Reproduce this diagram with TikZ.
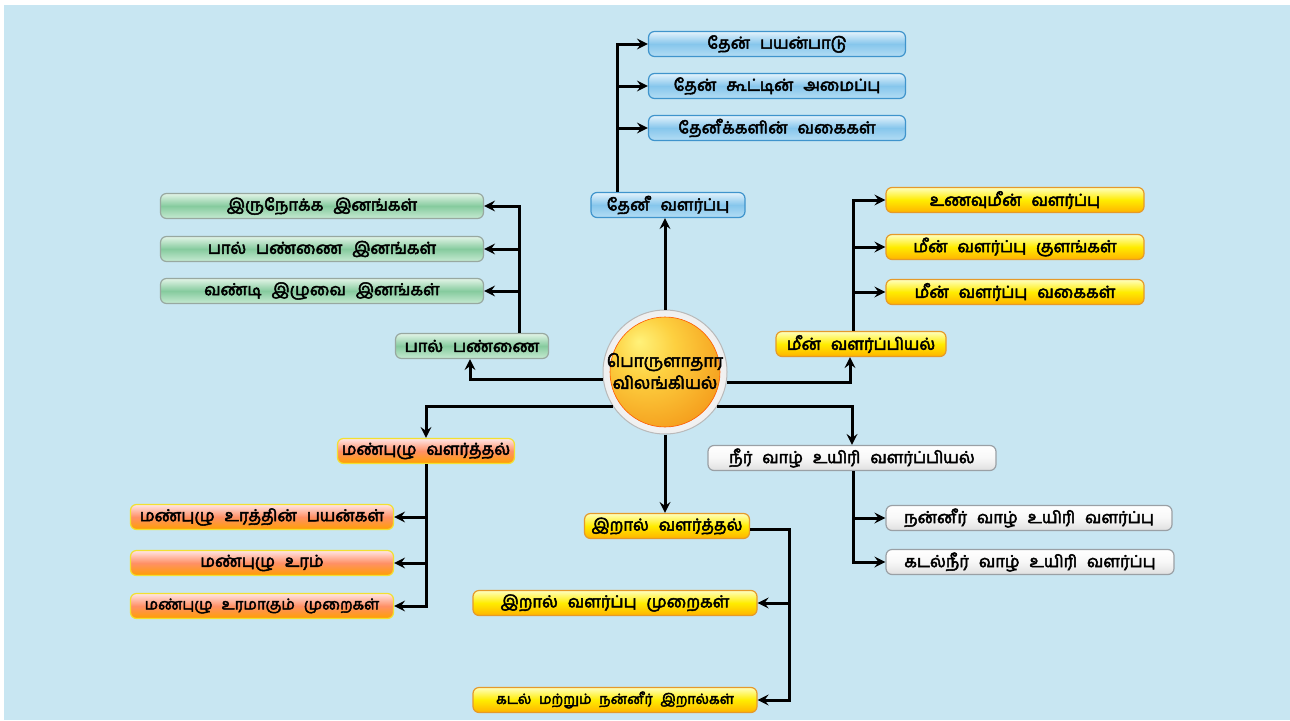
\documentclass[tikz,border=0pt]{standalone}
\usepackage{fontspec}
\newfontfamily\tam[Script=Tamil,FakeBold=3]{Hind Madurai}
\newcommand\boxfont{\tam\fontsize{16.5}{18}\selectfont\spaceskip 0.6em plus 0.1em\relax}
\newcommand\smallboxfont{\tam\fontsize{15}{17}\selectfont\spaceskip 0.6em plus 0.1em\relax}
\newcommand\tinyboxfont{\tam\fontsize{14}{16}\selectfont\spaceskip 0.55em plus 0.1em\relax}
\newcommand\ctrfont{\tam\fontsize{17}{22}\selectfont}
\usetikzlibrary{arrows.meta,calc}
\definecolor{bg}{HTML}{C8E6F2}
\definecolor{bluebd}{HTML}{3F94CC}
\definecolor{blueT}{HTML}{E4F3FC}
\definecolor{blueM}{HTML}{86C6EC}
\definecolor{blueB}{HTML}{B4DDF4}
\definecolor{greenbd}{HTML}{98A8A0}
\definecolor{greenT}{HTML}{E2F4E7}
\definecolor{greenM}{HTML}{86CB9E}
\definecolor{greenB}{HTML}{C6EAD2}
\definecolor{ylwbd}{HTML}{E59A2A}
\definecolor{redbd}{HTML}{F2E030}
\definecolor{graybd}{HTML}{9AA0A5}
\definecolor{sunA}{HTML}{FFF27A}
\definecolor{sunB}{HTML}{FDD040}
\definecolor{sunC}{HTML}{F5A01E}
\definecolor{sunD}{HTML}{E8790E}
\pgfdeclareradialshading{sunball}{\pgfpoint{-12bp}{14bp}}{color(0bp)=(sunA); color(14bp)=(sunB); color(34bp)=(sunC); color(55bp)=(sunD); color(70bp)=(sunD)}
\tikzset{
  box/.style={rounded corners=6pt, minimum height=25pt, line width=1.2pt, inner sep=0pt,
    font=\boxfont, text=black},
  smalltext/.style={font=\smallboxfont},
  tinytext/.style={font=\tinyboxfont},
  bluebox/.style={box, draw=bluebd, top color=blueT, bottom color=blueB, middle color=blueM},
  greenbox/.style={box, draw=greenbd, top color=greenT, bottom color=greenB, middle color=greenM},
  ylwbox/.style={box, draw=ylwbd, top color=yellow!25!white, bottom color=orange!60!yellow, middle color=yellow!85!orange},
  redbox/.style={box, draw=redbd, top color=red!10!white, bottom color=orange!75!yellow, middle color=red!45!orange!60!white},
  graybox/.style={box, draw=graybd, top color=white, bottom color=gray!25!white, middle color=gray!6!white},
  arr/.style={line width=3pt, -{Stealth[length=11pt,width=11pt,inset=4pt]}},
}
\begin{document}
\begin{tikzpicture}[x=1pt,y=-1pt]
\fill[white] (0,0) rectangle (1290,720);
\fill[bg] (4,5) rectangle (1290,720);
\useasboundingbox (0,0) rectangle (1290,720);

% centre
\node[circle, minimum size=124pt, draw=gray!55, line width=1pt, inner color=white, outer color=gray!12, inner sep=0pt] (c) at (665,372) {};
\shade[shading=sunball] (665,372) circle (55pt);
\draw[orange!70!red, line width=0.6pt] (665,372) circle (55pt);
\node[font=\ctrfont, align=center] (ct) at (665,371) {பொருளாதார\\விலங்கியல்};

% bee
\node[bluebox, minimum width=154pt] (bee) at (668,205) {தேனீ வளர்ப்பு};
\node[bluebox, minimum width=257pt] (h1) at (777,44) {தேன் பயன்பாடு};
\node[bluebox, minimum width=257pt] (h2) at (777,86) {தேன் கூட்டின் அமைப்பு};
\node[bluebox, minimum width=257pt] (h3) at (777,128) {தேனீக்களின் வகைகள்};

% milk
\node[greenbox, minimum width=153pt] (milk) at (472,346) {பால் பண்ணை};
\node[greenbox, minimum width=323pt] (m1) at (322,206) {இருநோக்க இனங்கள்};
\node[greenbox, minimum width=323pt] (m2) at (322,249) {பால் பண்ணை இனங்கள்};
\node[greenbox, minimum width=323pt] (m3) at (322,291) {வண்டி இழுவை இனங்கள்};

% fish
\node[ylwbox, minimum width=170pt] (fish) at (861,344) {மீன் வளர்ப்பியல்};
\node[ylwbox, minimum width=258pt] (f1) at (1015,200) {உணவுமீன் வளர்ப்பு};
\node[ylwbox, minimum width=258pt] (f2) at (1015,247) {மீன் வளர்ப்பு குளங்கள்};
\node[ylwbox, minimum width=258pt] (f3) at (1015,292) {மீன் வளர்ப்பு வகைகள்};

% aqua
\node[graybox, minimum width=288pt] (aqua) at (852,458) {நீர் வாழ் உயிரி வளர்ப்பியல்};
\node[graybox, minimum width=286pt] (a1) at (1029,518) {நன்னீர் வாழ் உயிரி வளர்ப்பு};
\node[graybox, minimum width=288pt] (a2) at (1030,562) {கடல்நீர் வாழ் உயிரி வளர்ப்பு};

% worm
\node[redbox, minimum width=177pt] (worm) at (426,451) {மண்புழு வளர்த்தல்};
\node[redbox, minimum width=263pt] (w1) at (262,517) {மண்புழு உரத்தின் பயன்கள்};
\node[redbox, minimum width=263pt] (w2) at (262,563) {மண்புழு உரம்};
\node[redbox, smalltext, minimum width=263pt] (w3) at (262,606) {மண்புழு உரமாகும் முறைகள்};

% prawn
\node[ylwbox, minimum width=165pt] (prawn) at (667,526) {இறால் வளர்த்தல்};
\node[ylwbox, minimum width=284pt] (p1) at (615,603) {இறால் வளர்ப்பு முறைகள்};
\node[ylwbox, tinytext, minimum width=284pt] (p2) at (615,700) {கடல் மற்றும் நன்னீர் இறால்கள்};

% trunk coordinates
\coordinate (tb) at (617,0);
\coordinate (tm) at (519,0);
\coordinate (tf) at (853,0);
\coordinate (ta) at (853,0);
\coordinate (tw) at (426,0);
\coordinate (tp) at (789,0);
\coordinate (pe) at ([yshift=-3pt]prawn.east);

% centre connectors
\draw[arr] (c.north) -- (c.north |- bee.south);
\draw[arr] (c.187) -| ([xshift=-2pt]milk.south);
\draw[arr] (c.-10) -| ([xshift=-11pt]fish.south);
\draw[arr] (c.-33) -| (aqua.north);
\draw[arr] (c.213) -| (worm.north);
\draw[arr] (c.south) -- (c.south |- prawn.north);

% bee branches
\draw[arr] (tb |- bee.north) |- (h1.west);
\draw[arr] (tb |- h2.west) -- (h2.west);
\draw[arr] (tb |- h3.west) -- (h3.west);

% milk branches
\draw[arr] (tm |- milk.north) |- (m1.east);
\draw[arr] (tm |- m2.east) -- (m2.east);
\draw[arr] (tm |- m3.east) -- (m3.east);

% fish branches
\draw[arr] (tf |- fish.north) |- (f1.west);
\draw[arr] (tf |- f2.west) -- (f2.west);
\draw[arr] (tf |- f3.west) -- (f3.west);

% aqua branches
\draw[arr] (ta |- aqua.south) |- (a2.west);
\draw[arr] (ta |- a1.west) -- (a1.west);

% worm branches
\draw[arr] (worm.south) |- (w3.east);
\draw[arr] (tw |- w1.east) -- (w1.east);
\draw[arr] (tw |- w2.east) -- (w2.east);

% prawn branches
\draw[arr] (pe) -- (tp |- pe) |- (p2.east);
\draw[arr] (tp |- p1.east) -- (p1.east);
\end{tikzpicture}
\end{document}
